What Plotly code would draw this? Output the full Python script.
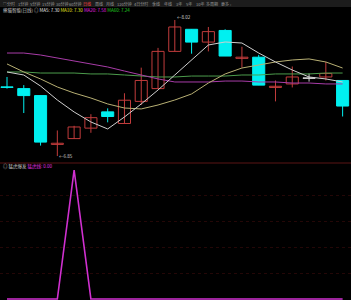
import plotly.graph_objects as go

# ---------------- data ----------------
opens  = [7.445, 7.43, 7.37, 6.95, 7.00, 7.09, 7.23, 7.13, 7.32, 7.43, 7.75,
          7.94, 7.83, 7.93, 7.69, 7.70, 7.44, 7.47, 7.52, 7.53, 7.50]
highs  = [7.53, 7.46, 7.37, 7.07, 7.11, 7.21, 7.26, 7.39, 7.61, 7.78, 8.02,
          7.94, 7.96, 7.94, 7.79, 7.72, 7.50, 7.62, 7.56, 7.66, 7.50]
lows   = [7.43, 7.22, 6.94, 6.85, 7.00, 7.05, 7.14, 7.13, 7.29, 7.43, 7.75,
          7.73, 7.75, 7.71, 7.61, 7.46, 7.32, 7.44, 7.49, 7.50, 7.19]
closes = [7.44, 7.37, 6.97, 6.96, 7.10, 7.18, 7.19, 7.33, 7.50, 7.75, 7.96,
          7.83, 7.92, 7.71, 7.70, 7.46, 7.45, 7.53, 7.52, 7.56, 7.28]

ma5  = [7.573, 7.547, 7.452, 7.332, 7.229, 7.143, 7.083, 7.186, 7.298, 7.418, 7.547,
        7.676, 7.805, 7.831, 7.822, 7.736, 7.659, 7.590, 7.530, 7.513, 7.487]
ma10 = [7.642, 7.573, 7.513, 7.444, 7.392, 7.349, 7.298, 7.263, 7.255, 7.289, 7.332,
        7.384, 7.478, 7.556, 7.607, 7.633, 7.659, 7.676, 7.685, 7.659, 7.607]
ma20 = [7.736, 7.736, 7.719, 7.693, 7.667, 7.642, 7.616, 7.581, 7.547, 7.513, 7.487,
        7.487, 7.487, 7.495, 7.495, 7.487, 7.487, 7.478, 7.478, 7.470, 7.470]
ma60 = [7.573, 7.573, 7.564, 7.564, 7.564, 7.556, 7.556, 7.547, 7.538, 7.530, 7.530,
        7.538, 7.538, 7.538, 7.547, 7.547, 7.556, 7.556, 7.556, 7.564, 7.564]

tiger = [0, 0, 0, 0, 1, 0, 0, 0, 0, 0, 0, 0, 0, 0, 0, 0, 0, 0, 0, 0, 0]

toolbar_labels = ["分时", "1分钟", "5分钟", "15分钟", "30分钟", "60分钟", "日线", "周线",
                  "月线", "120分钟", "4日分时", "季线", "年线", "3年", "5年", "10年",
                  "多周期", "更多 ›"]
selected_label = "日线"
title_main = "熊猫智能(日线)"
ma_labels = ["MA5: 7.30", "MA10: 7.30", "MA20: 7.58", "MA60: 7.24"]
title_sub = "猛虎爆发"
sub_label = "猛虎线: 0.00"
low_label = "←6.85"
high_label = "←8.02"

# ---------------- styles ----------------
W, H = 351, 300
RED = "#c23c3c"
CYAN = "#00f0f0"
WHITE = "#d0d0d0"
C_MA5 = "#cfcfcf"
C_MA10 = "#b8b074"
C_MA20 = "#a83ca8"
C_MA60 = "#4c9c4c"
C_TIGER = "#d030d0"
FONT = "Noto Sans CJK SC"

idx = list(range(len(opens)))

fig = go.Figure()

def wick_trace(color, sel):
    xs, ys = [], []
    for i in idx:
        if sel(i):
            xs += [i, i, None]
            ys += [lows[i], highs[i], None]
    return go.Scatter(x=xs, y=ys, mode="lines", line=dict(color=color, width=1),
                      hoverinfo="skip", showlegend=False, xaxis="x", yaxis="y")

up = lambda i: closes[i] > opens[i]
dn = lambda i: closes[i] < opens[i]
eq = lambda i: closes[i] == opens[i]
fig.add_trace(wick_trace(RED, up))
fig.add_trace(wick_trace(CYAN, dn))
fig.add_trace(wick_trace(WHITE, eq))

bases, heights, fills, lines = [], [], [], []
for i in idx:
    lo, hi = min(opens[i], closes[i]), max(opens[i], closes[i])
    h = max(hi - lo, 0.004)
    bases.append(lo if hi - lo >= 0.004 else lo - 0.002)
    heights.append(h)
    if up(i):
        fills.append("#000000"); lines.append(RED)
    elif dn(i):
        fills.append(CYAN); lines.append(CYAN)
    else:
        fills.append(WHITE); lines.append(WHITE)
fig.add_trace(go.Bar(x=idx, y=heights, base=bases, width=0.72,
                     marker=dict(color=fills, line=dict(color=lines, width=1)),
                     hoverinfo="skip", showlegend=False, xaxis="x", yaxis="y"))

for vals, col in [(ma60, C_MA60), (ma20, C_MA20), (ma10, C_MA10), (ma5, C_MA5)]:
    fig.add_trace(go.Scatter(x=idx, y=vals, mode="lines", line=dict(color=col, width=1),
                             hoverinfo="skip", showlegend=False, xaxis="x", yaxis="y"))

fig.add_trace(go.Scatter(x=idx, y=tiger, mode="lines", line=dict(color=C_TIGER, width=1.6),
                         hoverinfo="skip", showlegend=False, xaxis="x2", yaxis="y2"))

xr = [-0.417, 20.5]
fig.update_layout(
    width=W, height=H, margin=dict(l=0, r=0, t=0, b=0),
    paper_bgcolor="#000000", plot_bgcolor="#000000",
    barmode="overlay", showlegend=False,
    font=dict(family=FONT, color="#bbbbbb", size=5),
    xaxis=dict(domain=[0, 1], range=xr, visible=False, anchor="y"),
    yaxis=dict(domain=[0.46, 0.9467], range=[6.7988, 8.0544], visible=False, anchor="x"),
    xaxis2=dict(domain=[0, 1], range=xr, visible=False, anchor="y2"),
    yaxis2=dict(domain=[0, 0.4533], range=[-0.0078, 1.0465], anchor="x2",
                showticklabels=False, zeroline=False, showline=False,
                tickvals=[0.2, 0.4, 0.6, 0.8], gridcolor="#240707", griddash="dot",
                gridwidth=1),
)

shapes = [
    dict(type="rect", xref="paper", yref="paper", x0=0, x1=1, y0=1 - 7 / H, y1=1,
         fillcolor="#1c1c1c", line=dict(width=0), layer="below"),
    dict(type="line", xref="paper", yref="paper", x0=0, x1=1, y0=1 - 163 / H, y1=1 - 163 / H,
         line=dict(color="#5a1414", width=1)),
]
fig.update_layout(shapes=shapes)

ann = []
tb_x = [11, 23, 35, 48, 62, 75, 87, 99, 110, 124, 141, 156, 168, 179, 189, 200, 212, 226]
for lab, xx in zip(toolbar_labels, tb_x):
    ann.append(dict(text=lab, x=xx / W, y=1 - 3.5 / H, xref="paper", yref="paper",
                    xanchor="center", yanchor="middle", showarrow=False,
                    font=dict(size=4, color="#ff4040" if lab == selected_label else "#9a9a9a")))
ann.append(dict(text="□", x=0.5 / W, y=1 - 3.5 / H, xref="paper", yref="paper",
                xanchor="left", yanchor="middle", showarrow=False,
                font=dict(size=3.5, color="#9a9a9a")))

ma_cols = ["#e8e8e8", "#e0e020", "#e020e0", "#20d020"]
title_txt = (f"<span style='color:#c8c8c8'>{title_main} ◎ </span>" +
             " ".join(f"<span style='color:{c}'>{t}</span>" for t, c in zip(ma_labels, ma_cols)))
ann.append(dict(text=title_txt, x=1 / W, y=1 - 11 / H, xref="paper", yref="paper",
                xanchor="left", yanchor="middle", showarrow=False, font=dict(size=4.5)))

sub_txt = (f"<span style='color:#c8c8c8'>◎ {title_sub} </span>"
           f"<span style='color:#e030e0'>{sub_label}</span>")
ann.append(dict(text=sub_txt, x=1 / W, y=1 - 166.5 / H, xref="paper", yref="paper",
                xanchor="left", yanchor="middle", showarrow=False, font=dict(size=4.5)))

i_lo = lows.index(min(lows))
i_hi = highs.index(max(highs))
ann.append(dict(text=low_label, x=i_lo, y=min(lows), xref="x", yref="y",
                xanchor="left", yanchor="middle", showarrow=False,
                font=dict(size=4.5, color="#d0d0d0")))
ann.append(dict(text=high_label, x=i_hi, y=max(highs), xref="x", yref="y",
                xanchor="left", yanchor="middle", showarrow=False, yshift=3,
                font=dict(size=4.5, color="#d0d0d0")))
fig.update_layout(annotations=ann)

fig.write_html("out.html", config={"displayModeBar": False})
